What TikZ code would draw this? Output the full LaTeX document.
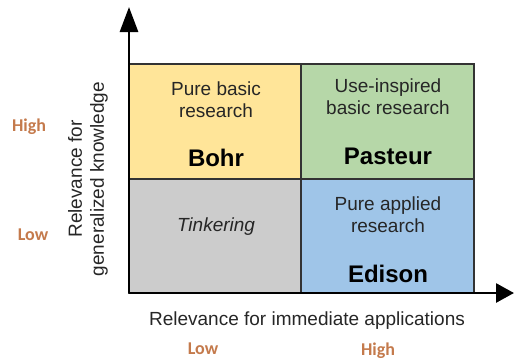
\documentclass[tikz,border=0pt]{standalone}
\usepackage{fontspec}
\setmainfont{Liberation Sans}
\newfontfamily\carlito{Carlito}
\usetikzlibrary{arrows.meta}
\definecolor{bohrcol}{HTML}{FFE599}
\definecolor{pasteurcol}{HTML}{B6D7A8}
\definecolor{tinkercol}{HTML}{CCCCCC}
\definecolor{edisoncol}{HTML}{9FC5E8}
\definecolor{levelcol}{RGB}{196,122,76}
\begin{document}
\begin{tikzpicture}[x=1pt,y=-1pt,
    quadrant/.style={draw=black!80,line width=1.2pt},
    txt/.style={inner sep=0pt,align=center,text=black!85,font=\fontsize{19}{22}\selectfont},
    scientist/.style={inner sep=0pt,font=\fontsize{24}{28}\selectfont\bfseries},
    level/.style={inner sep=0pt,text=levelcol,font=\fontsize{18}{20}\selectfont\carlito\bfseries}]
        \useasboundingbox (0,0) rectangle (514,364);

        % Quadranti
        \draw[quadrant,fill=bohrcol] (129,64) rectangle (301,179);
        \draw[quadrant,fill=pasteurcol] (301,64) rectangle (474,179);
        \draw[quadrant,fill=tinkercol] (129,179) rectangle (301,293);
        \draw[quadrant,fill=edisoncol] (301,179) rectangle (474,293);

        % Assi
        \coordinate (origin) at (129,293);
        \coordinate (ytip) at (129,7);
        \coordinate (xtip) at (514,293);
        \draw[line width=2.8pt,-{Triangle[length=25pt,width=18pt]}] (origin) -- (ytip);
        \draw[line width=2.8pt,-{Triangle[length=18pt,width=19pt]}] (origin) -- (xtip);

        % Etichette dei quadranti
        \node[txt] (bohrtxt) at (216,100) {Pure basic\\research};
        \node[scientist] (bohr) at (216,158) {Bohr};
        \node[txt] (pasteurtxt) at (388,97) {Use-inspired\\basic research};
        \node[scientist] (pasteur) at (388,156) {Pasteur};
        \node[txt,font=\fontsize{19}{22}\selectfont\itshape] (tinker) at (216,227) {Tinkering};
        \node[txt] (edisontxt) at (388,215) {Pure applied\\research};
        \node[scientist] (edison) at (388,274) {Edison};

        % Etichette degli assi
        \node[txt] (xlabel) at (307,321) {Relevance for immediate applications};
        \node[txt,rotate=90] (ylabel) at (88,179) {Relevance for\\generalized knowledge};

        % Livelli
        \node[level] (yhigh) at (29,127) {High};
        \node[level] (ylow) at (33,235) {Low};
        \node[level] (xlow) at (203,349) {Low};
        \node[level] (xhigh) at (378,351) {High};
    \end{tikzpicture}
\end{document}
